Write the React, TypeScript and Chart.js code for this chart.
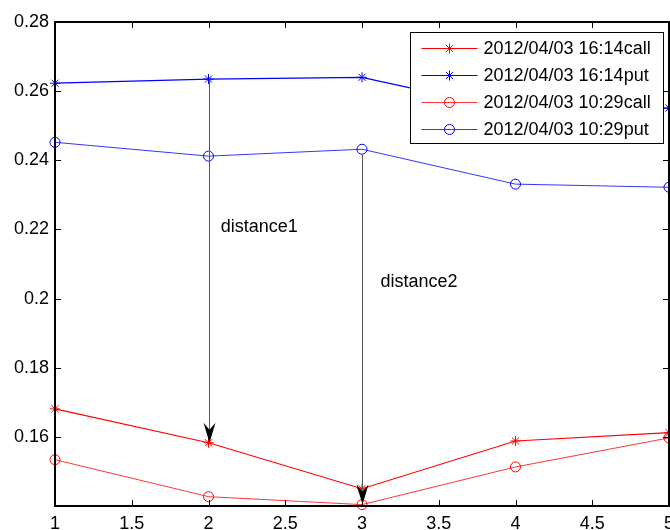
import React, { useEffect, useRef } from 'react';
import { Chart, registerables } from 'chart.js';

Chart.register(...registerables);

const xValues = [1, 2, 3, 4, 5];
const call1614 = [0.1681, 0.1583, 0.145, 0.1588, 0.1612];
const put1614 = [0.2623, 0.2635, 0.264, 0.2543, 0.2551];
const call1029 = [0.1534, 0.1427, 0.1404, 0.1513, 0.1597];
const put1029 = [0.2452, 0.2412, 0.2432, 0.2331, 0.2322];
const seriesLabels = [
  '2012/04/03 16:14call',
  '2012/04/03 16:14put',
  '2012/04/03 10:29call',
  '2012/04/03 10:29put',
];
const textLabels = ['distance1', 'distance2'];
const textX = [2.08, 3.12];
const textY = [0.2207, 0.2048];
const arrowX = [2, 3];
const arrowFrom = [put1614[1], put1029[2]];
const arrowTo = [call1614[1], call1029[2]];
const arrowFromCircle = [false, true];

const FONT = '"Liberation Sans", Arial, sans-serif';
const RED = '#ff0000';
const BLUE = '#0000ff';

const seriesStyle = [
  { color: RED, marker: 'star', width: 1.2 },
  { color: BLUE, marker: 'star', width: 1.2 },
  { color: RED, marker: 'circle', width: 0.8 },
  { color: BLUE, marker: 'circle', width: 0.8 },
];

function drawMarker(ctx: CanvasRenderingContext2D, kind: string, cx: number, cy: number, color: string) {
  ctx.save();
  ctx.strokeStyle = color;
  ctx.lineWidth = 1;
  ctx.beginPath();
  if (kind === 'circle') {
    ctx.arc(cx, cy, 5, 0, Math.PI * 2);
  } else {
    const r = 5;
    const d = r * 0.7071;
    ctx.moveTo(cx - r, cy); ctx.lineTo(cx + r, cy);
    ctx.moveTo(cx, cy - r); ctx.lineTo(cx, cy + r);
    ctx.moveTo(cx - d, cy - d); ctx.lineTo(cx + d, cy + d);
    ctx.moveTo(cx - d, cy + d); ctx.lineTo(cx + d, cy - d);
  }
  ctx.stroke();
  ctx.restore();
}

const overlayPlugin = {
  id: 'matlabOverlay',
  afterDatasetsDraw(chart: any) {
    const { ctx, chartArea: a } = chart;
    const xs = chart.scales.x;
    const ys = chart.scales.y;
    ctx.save();

    // arrows
    for (let i = 0; i < arrowX.length; i++) {
      const px = Math.round(xs.getPixelForValue(arrowX[i])) + 0.5;
      const y0 = ys.getPixelForValue(arrowFrom[i]) + (arrowFromCircle[i] ? 5 : 0);
      const y1 = ys.getPixelForValue(arrowTo[i]);
      ctx.strokeStyle = '#555555';
      ctx.lineWidth = 1;
      ctx.beginPath();
      ctx.moveTo(px, y0);
      ctx.lineTo(px, y1 - 12);
      ctx.stroke();
      ctx.fillStyle = '#000000';
      ctx.beginPath();
      ctx.moveTo(px, y1);
      ctx.lineTo(px - 6, y1 - 20);
      ctx.lineTo(px, y1 - 13);
      ctx.lineTo(px + 6, y1 - 20);
      ctx.closePath();
      ctx.fill();
    }

    // text annotations
    ctx.fillStyle = '#000000';
    ctx.font = `18px ${FONT}`;
    ctx.textAlign = 'left';
    ctx.textBaseline = 'middle';
    for (let i = 0; i < textLabels.length; i++) {
      ctx.fillText(textLabels[i], xs.getPixelForValue(textX[i]), ys.getPixelForValue(textY[i]));
    }

    // axes box
    ctx.strokeStyle = '#000000';
    ctx.lineWidth = 2;
    ctx.strokeRect(a.left, a.top, a.right - a.left, a.bottom - a.top);

    // inner ticks
    ctx.lineWidth = 1;
    ctx.beginPath();
    xs.ticks.forEach((t: any) => {
      const px = Math.round(xs.getPixelForValue(t.value)) + 0.5;
      ctx.moveTo(px, a.bottom); ctx.lineTo(px, a.bottom - 6);
      ctx.moveTo(px, a.top); ctx.lineTo(px, a.top + 6);
    });
    ys.ticks.forEach((t: any) => {
      const py = Math.round(ys.getPixelForValue(t.value)) + 0.5;
      ctx.moveTo(a.left, py); ctx.lineTo(a.left + 6, py);
      ctx.moveTo(a.right, py); ctx.lineTo(a.right - 6, py);
    });
    ctx.stroke();

    // legend
    const lw = 253;
    const lh = 111;
    const lx = Math.round(a.right - 6 - lw) + 0.5;
    const ly = Math.round(a.top + 10) + 0.5;
    ctx.fillStyle = '#ffffff';
    ctx.fillRect(lx, ly, lw, lh);
    ctx.strokeStyle = '#000000';
    ctx.lineWidth = 1;
    ctx.strokeRect(lx, ly, lw, lh);
    for (let i = 0; i < seriesLabels.length; i++) {
      const ry = ly + 16 + i * 27;
      const st = seriesStyle[i];
      ctx.strokeStyle = st.color;
      ctx.lineWidth = st.width;
      ctx.beginPath();
      ctx.moveTo(lx + 11, ry);
      ctx.lineTo(lx + 67, ry);
      ctx.stroke();
      drawMarker(ctx, st.marker, lx + 39, ry, st.color);
      ctx.fillStyle = '#000000';
      ctx.font = `18px ${FONT}`;
      ctx.textAlign = 'left';
      ctx.textBaseline = 'middle';
      ctx.fillText(seriesLabels[i], lx + 73, ry + 1);
    }
    ctx.restore();
  },
};

const seriesData = [call1614, put1614, call1029, put1029];

function zeroPadding(s: any) {
  s.paddingLeft = 0;
  s.paddingRight = 0;
  s.paddingTop = 0;
  s.paddingBottom = 0;
}

export default function App() {
  const ref = useRef<HTMLCanvasElement | null>(null);
  useEffect(() => {
    if (!ref.current) return;
    const datasets = seriesData.map((vals, i) => ({
      label: seriesLabels[i],
      data: xValues.map((x, j) => ({ x, y: vals[j] })),
      borderColor: seriesStyle[i].color,
      backgroundColor: 'rgba(0,0,0,0)',
      borderWidth: seriesStyle[i].width,
      pointStyle: seriesStyle[i].marker === 'star' ? 'star' : 'circle',
      pointRadius: 5,
      pointBorderColor: seriesStyle[i].color,
      pointBackgroundColor: 'rgba(0,0,0,0)',
      pointBorderWidth: 1,
      tension: 0,
      clip: false as any,
    }));
    const chart = new Chart(ref.current, {
      type: 'line',
      data: { datasets },
      options: {
        animation: false,
        responsive: false,
        devicePixelRatio: 1,
        layout: { autoPadding: false, padding: { top: 22, right: 1, left: 0, bottom: 0 } } as any,
        plugins: { legend: { display: false }, tooltip: { enabled: false } },
        scales: {
          x: {
            type: 'linear',
            min: 1,
            max: 5,
            grid: { display: false, drawTicks: false },
            border: { display: false },
            ticks: {
              stepSize: 0.5,
              autoSkip: false,
              maxRotation: 0,
              padding: 7,
              color: '#000000',
              font: { family: FONT, size: 18 },
              callback: (v: any) => String(Number(Number(v).toFixed(2))),
            },
            afterFit: (s: any) => {
              s.height = 24;
              zeroPadding(s);
            },
          },
          y: {
            type: 'linear',
            min: 0.14,
            max: 0.28,
            grid: { display: false, drawTicks: false },
            border: { display: false },
            ticks: {
              stepSize: 0.02,
              padding: 6,
              color: '#000000',
              font: { family: FONT, size: 18 },
              callback: (v: any) => {
                const n = Number(Number(v).toFixed(2));
                return n <= 0.14 ? '' : String(n);
              },
            },
            afterFit: (s: any) => {
              s.width = 55;
              zeroPadding(s);
            },
          },
        },
      },
      plugins: [overlayPlugin],
    });
    return () => chart.destroy();
  }, []);
  return (
    <div style={{ position: 'fixed', left: 0, top: 0, width: 670, height: 530, overflow: 'hidden', background: '#ffffff' }}>
      <canvas ref={ref} width={670} height={530} style={{ display: 'block' }} />
    </div>
  );
}
